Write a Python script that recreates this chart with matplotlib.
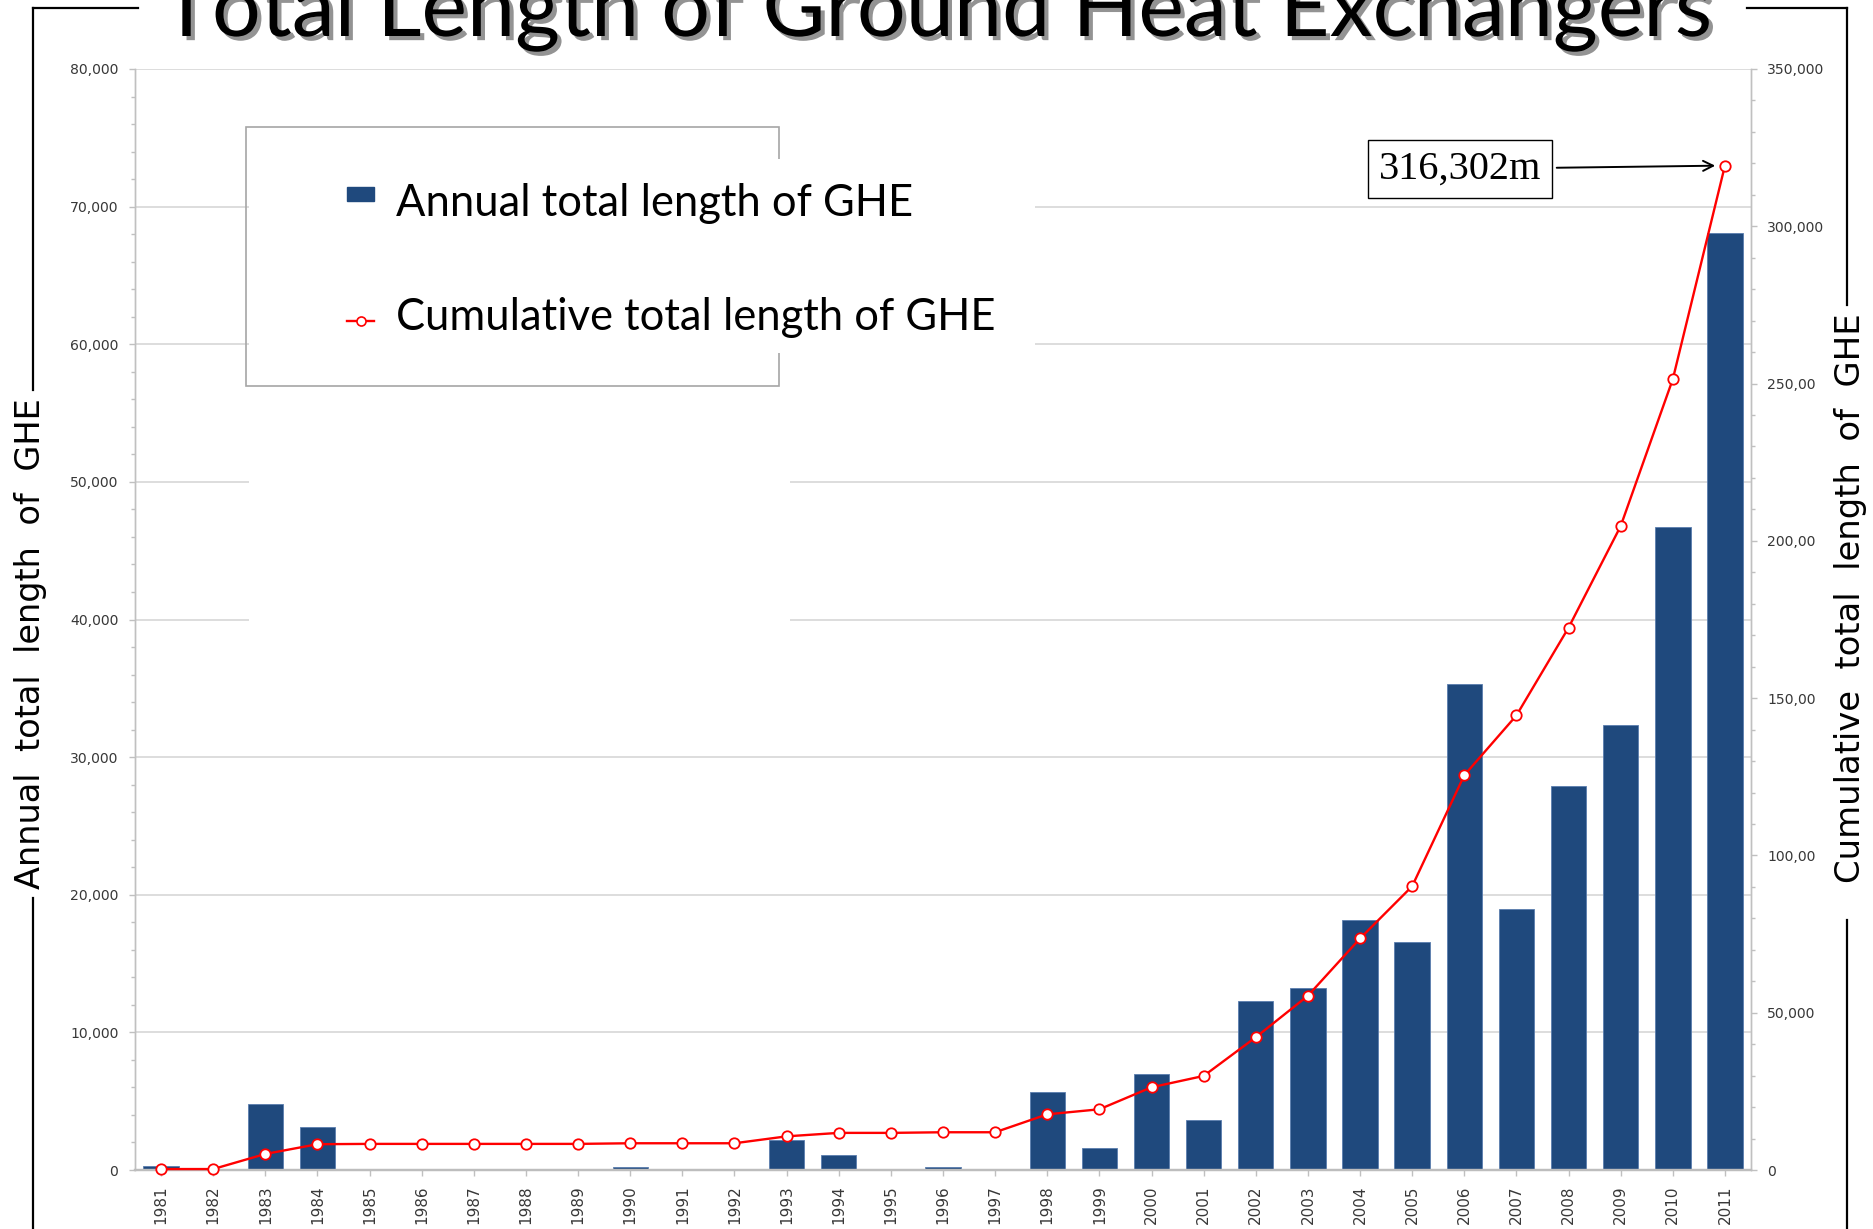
import matplotlib
matplotlib.use('Agg')
import matplotlib.pyplot as plt
import matplotlib.patheffects as pe
from matplotlib.patches import Rectangle
from matplotlib.lines import Line2D
from matplotlib.legend_handler import HandlerPatch, HandlerLine2D
from matplotlib.ticker import MultipleLocator, FuncFormatter
from matplotlib.font_manager import FontProperties
import numpy as np

# ---------------- data ----------------
years = ['1981', '1982', '1983', '1984', '1985', '1986', '1987', '1988', '1989', '1990',
         '1991', '1992', '1993', '1994', '1995', '1996', '1997', '1998', '1999', '2000',
         '2001', '2002', '2003', '2004', '2005', '2006', '2007', '2008', '2009', '2010', '2011']
annual = [300, 0, 4800, 3100, 100, 0, 0, 0, 0, 200,
          0, 0, 2200, 1100, 0, 200, 0, 5700, 1600, 7000,
          3600, 12300, 13200, 18200, 16600, 35300, 19000, 27900, 32300, 46700, 68100]
cumulative = [300, 300, 5100, 8200, 8300, 8300, 8300, 8300, 8300, 8500,
              8500, 8500, 10700, 11800, 11800, 12000, 12000, 17700, 19300, 26300,
              29900, 42200, 55400, 73600, 90200, 125500, 144500, 172400, 204700, 251400, 319300]
legend_labels = ['Annual total length of GHE', 'Cumulative total length of GHE']
title = 'Total Length of Ground Heat Exchangers'
left_label = 'Annual  total  length  of  GHE'
right_label = 'Cumulative  total  length  of  GHE'
note = '316,302m'

# ---------------- figure ----------------
W, H = 1874, 1229
fig = plt.figure(figsize=(W / 100, H / 100), dpi=100)
fig.patch.set_facecolor('white')
renderer = fig.canvas.get_renderer()

def text_width(s, prop):
    t = fig.text(0, 0, s, fontproperties=prop)
    w = t.get_window_extent(renderer).width
    t.remove()
    return w

def fig_rect(x0, y0, x1, y1, **kw):
    return Rectangle((x0 / W, 1 - y1 / H), (x1 - x0) / W, (y1 - y0) / H,
                     transform=fig.transFigure, **kw)

def fig_line(x0, y0, x1, y1, **kw):
    return Line2D([x0 / W, x1 / W], [1 - y0 / H, 1 - y1 / H], transform=fig.transFigure, **kw)

ax = fig.add_axes([135 / W, (H - 1170) / H, (1751 - 135) / W, (1170 - 69) / H])
ax2 = ax.twinx()

x = np.arange(len(years))
BAR = '#1F497D'
ax.bar(x, annual, width=0.68, color=BAR, edgecolor='#5A7DAE', linewidth=0.6, zorder=2)
ax2.plot(x, cumulative, color='#FF0000', lw=1.7, marker='o', ms=7.5,
         mfc='white', mec='#FF0000', mew=1.3, zorder=3, clip_on=False)

# axes styling
grid_c = '#D3D3D3'
tick_c = '#C0C0C0'
lab_c = '#383838'
ax.set_axisbelow(True)
ax.yaxis.grid(True, which='major', color=grid_c, lw=1.1)
ax.yaxis.set_major_locator(MultipleLocator(10000))
ax.yaxis.set_minor_locator(MultipleLocator(2000))
ax2.yaxis.set_major_locator(MultipleLocator(50000))
ax2.yaxis.set_minor_locator(MultipleLocator(10000))
fmt = FuncFormatter(lambda v, p: f'{int(round(v)):,}')
ax.yaxis.set_major_formatter(fmt)
ax2.yaxis.set_major_formatter(fmt)
ax.tick_params(axis='y', which='major', length=4, width=1, color=tick_c,
               labelsize=10.1, labelcolor=lab_c, pad=8.0)
ax.tick_params(axis='y', which='minor', length=2.7, width=1, color=tick_c)
ax2.tick_params(axis='y', which='major', length=4, width=1, color=tick_c,
                labelsize=10.1, labelcolor=lab_c, pad=7.5)
ax2.tick_params(axis='y', which='minor', length=2.7, width=1, color=tick_c)
ax.set_xticks(x)
ax.set_xticklabels(years, rotation=90, fontsize=10.9, color=lab_c)
ax.tick_params(axis='x', length=4, width=1, color=tick_c, pad=7)
for a in (ax, ax2):
    a.spines['top'].set_visible(False)
    for s in ('left', 'right'):
        a.spines[s].set_color(tick_c)
        a.spines[s].set_linewidth(1.0)
    a.spines['bottom'].set_color('#BDBDBD')
    a.spines['bottom'].set_linewidth(1.6)

# legend area (white cover, box, text cover)
ax.add_patch(fig_rect(249, 128, 790, 693, fc='white', ec='none', zorder=1, clip_on=False))
ax.add_patch(fig_rect(246, 127, 779, 386, fc='none', ec='#A6A6A6', lw=1.2, zorder=1.2, clip_on=False))
ax.add_patch(fig_rect(251, 159, 1035, 353, fc='white', ec='none', zorder=1.4, clip_on=False))

ax.set_xlim(-0.5, len(years) - 0.5)
ax.set_ylim(0, 80000)
ax2.set_ylim(0, 350000)

# legend
lat = ['Lato', 'DejaVu Sans']
leg_fs = 10 * 516 / text_width(legend_labels[0], FontProperties(family=lat, size=10))
bar_proxy = Rectangle((0, 0), 1, 1, color=BAR)
line_proxy = Line2D([], [], color='#FF0000', lw=1.7, marker='o', ms=6.5, mfc='white', mec='#FF0000', mew=1.2)

def make_rect(legend, orig_handle, xdescent, ydescent, width, height, fontsize):
    return Rectangle((-xdescent, -ydescent + height * 0.51), width, height * 0.45)

class LowLine(HandlerLine2D):
    def create_artists(self, legend, orig_handle, xdescent, ydescent, width, height, fontsize, trans):
        arts = super().create_artists(legend, orig_handle, xdescent, ydescent, width, height, fontsize, trans)
        for a in arts:
            a.set_ydata(np.asarray(a.get_ydata(), dtype=float) - 0.22 * height)
        return arts

leg = ax2.legend([bar_proxy, line_proxy], legend_labels, loc='center left',
                 bbox_to_anchor=(347 / W, 1 - 260.5 / H), bbox_transform=fig.transFigure,
                 frameon=False, prop=FontProperties(family=lat, size=leg_fs),
                 handlelength=0.62, handletextpad=0.5, labelspacing=1.66,
                 borderpad=0, borderaxespad=0,
                 handler_map={Rectangle: HandlerPatch(patch_func=make_rect),
                              Line2D: LowLine()})
leg.set_zorder(10)

# annotation
ax2.annotate(note, xy=(x[-1], cumulative[-1]), xytext=(1460, H - 169),
             textcoords='figure pixels', ha='center', va='center', fontsize=29,
             family=['Liberation Serif', 'DejaVu Serif'],
             bbox=dict(boxstyle='square,pad=0.27', fc='white', ec='black', lw=1.0),
             arrowprops=dict(arrowstyle='->', color='black', lw=1.4, shrinkA=3, shrinkB=7,
                             mutation_scale=18), zorder=6)

# right white cover (label box clipping tick labels)
fig.add_artist(fig_rect(1815, 305, 1874, 920, fc='white', ec='none', zorder=3))

# frame lines
for seg in [(33, 8, 138, 8), (33, 8, 33, 390), (33, 898, 33, 1229),
            (1747, 8, 1847, 8), (1847, 8, 1847, 305), (1847, 920, 1847, 1229)]:
    fig.add_artist(fig_line(*seg, color='black', lw=1.6, zorder=4, solid_capstyle='projecting'))

# title
t_fs = 10 * 1550 / text_width(title, FontProperties(family=lat, size=10))
fig.text(161 / W, 1 - 36 / H, title, ha='left', va='baseline', fontsize=t_fs, family=lat,
         color='black', zorder=6,
         path_effects=[pe.SimplePatchShadow(offset=(3, -3), shadow_rgbFace='#6F6F6F', alpha=0.75),
                       pe.Normal()])

# axis labels
dj = ['DejaVu Sans']
l_fs = 10 * 492 / text_width(left_label, FontProperties(family=dj, size=10))
r_fs = 10 * 571 / text_width(right_label, FontProperties(family=dj, size=10))
fig.text(31 / W, 1 - 644 / H, left_label, rotation=90, ha='center', va='center',
         fontsize=l_fs, family=dj, color='black', zorder=6)
fig.text(1851 / W, 1 - 598.5 / H, right_label, rotation=90, ha='center', va='center',
         fontsize=r_fs, family=dj, color='black', zorder=6)

fig.savefig('out.png', dpi=100, facecolor='white')
